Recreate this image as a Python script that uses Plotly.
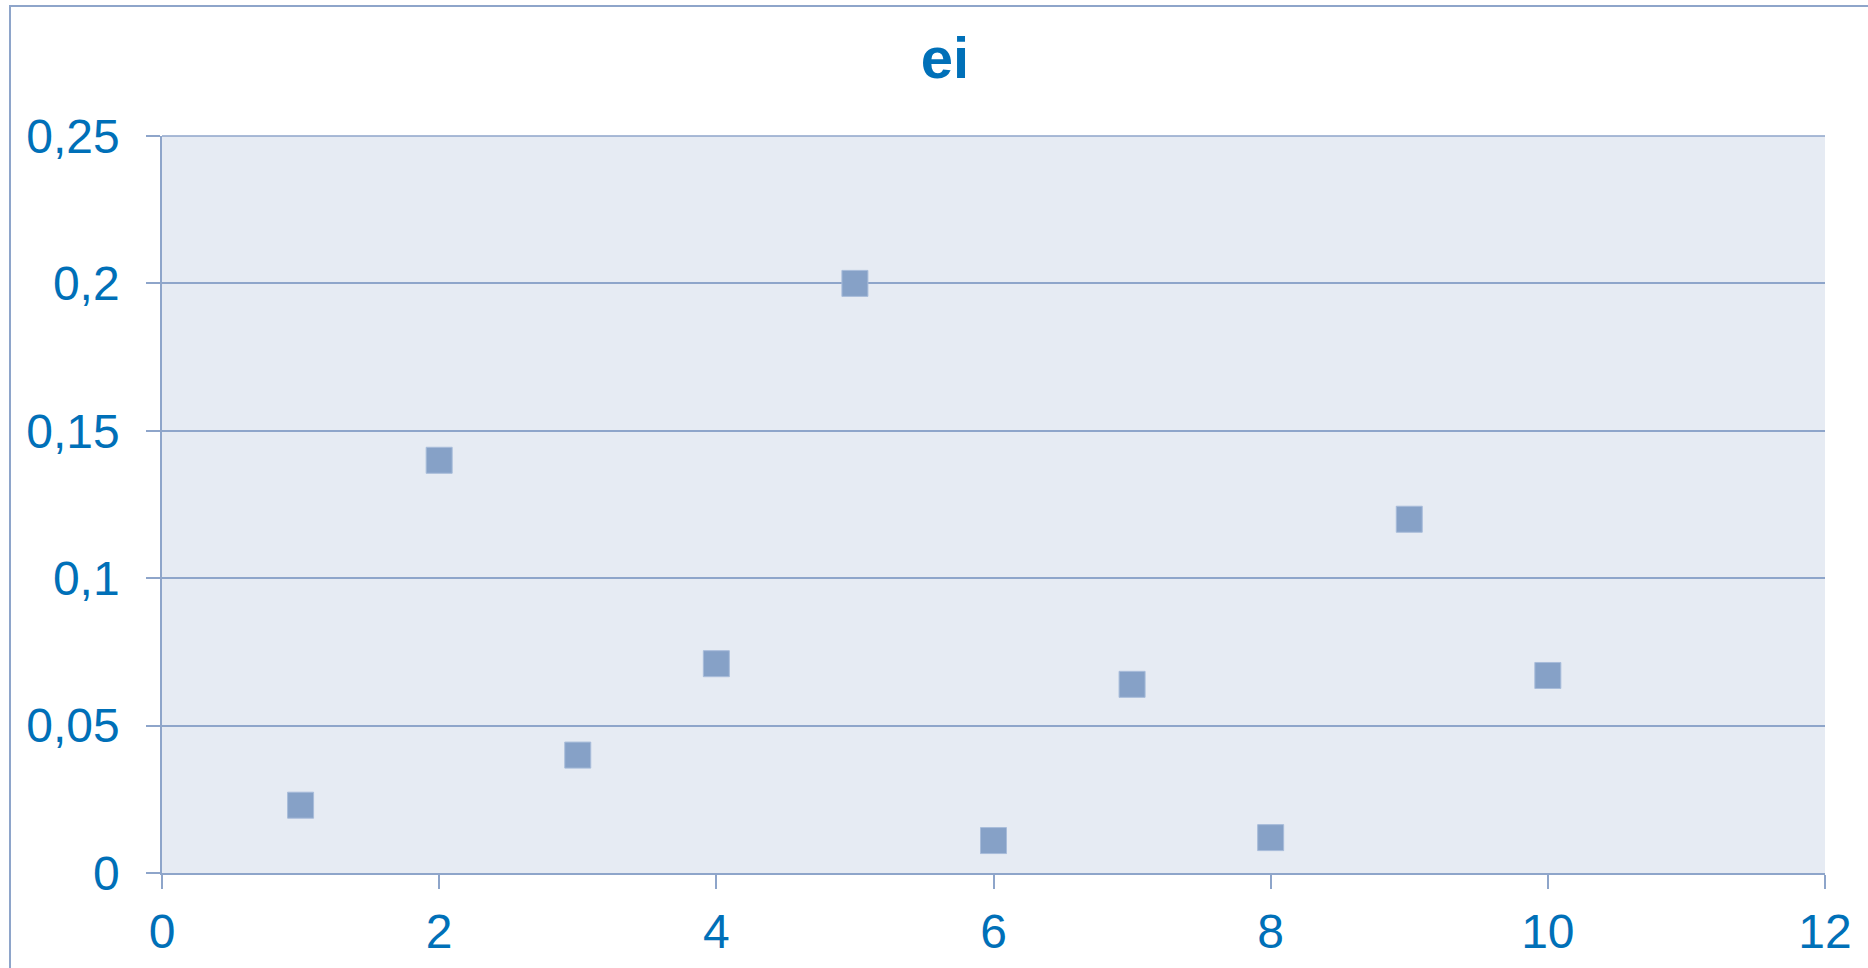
import plotly.graph_objects as go

# Data
x_values = [1, 2, 3, 4, 5, 6, 7, 8, 9, 10]
ei_values = [0.023, 0.14, 0.04, 0.071, 0.2, 0.011, 0.064, 0.012, 0.12, 0.067]
x_tick_vals = [0, 2, 4, 6, 8, 10, 12]
x_tick_text = ["0", "2", "4", "6", "8", "10", "12"]
y_tick_vals = [0, 0.05, 0.1, 0.15, 0.2, 0.25]
y_tick_text = ["0", "0,05", "0,1", "0,15", "0,2", "0,25"]
title_text = "ei"

W, H = 1868, 968
line_col = "#8EA5CA"
text_col = "#0070B8"
font_fam = "Liberation Sans, Arial, sans-serif"

fig = go.Figure()
fig.add_trace(go.Scatter(
    x=x_values, y=ei_values, mode="markers",
    marker=dict(symbol="square", size=26, color="#86A1C7",
                line=dict(color="#A8BCDA", width=1)),
    showlegend=False, hoverinfo="x+y",
))

axis_common = dict(
    showline=True, linecolor=line_col, linewidth=1.5,
    ticks="outside", ticklen=14, tickcolor=line_col, tickwidth=1.5,
    tickfont=dict(family=font_fam, size=48, color=text_col),
    zeroline=False, automargin=False,
)

fig.update_layout(
    width=W, height=H, autosize=False,
    margin=dict(l=162, r=43, t=136, b=95),
    paper_bgcolor="white", plot_bgcolor="#E6EBF3",
    title=dict(text=f"<b>{title_text}</b>", x=945 / W, xref="container", xanchor="center",
               y=1 - 58 / H, yref="container", yanchor="middle",
               font=dict(family=font_fam, size=58, color=text_col)),
    xaxis=dict(range=[0, 12], tickvals=x_tick_vals, ticktext=x_tick_text,
               showgrid=False, mirror=False, ticklabelstandoff=2, **axis_common),
    yaxis=dict(range=[0, 0.25], tickvals=y_tick_vals, ticktext=y_tick_text,
               showgrid=True, gridcolor=line_col, gridwidth=1.5,
               ticklabelstandoff=17, **axis_common),
    shapes=[
        # outer chart frame (extends beyond visible area on right/bottom)
        dict(type="rect", xref="paper", yref="paper",
             x0=(10 - 162) / (W - 162 - 43), x1=1.2,
             y0=-0.3, y1=1 + (136 - 6) / (H - 136 - 95),
             line=dict(color=line_col, width=2), fillcolor="rgba(0,0,0,0)", layer="below"),
        # top border line of plot area
        dict(type="line", xref="paper", yref="paper", x0=0, x1=1, y0=1, y1=1,
             line=dict(color=line_col, width=1.5)),
    ],
)

fig.write_html("out.html", config={"displayModeBar": False},
               post_script="document.body.style.margin='0';")
